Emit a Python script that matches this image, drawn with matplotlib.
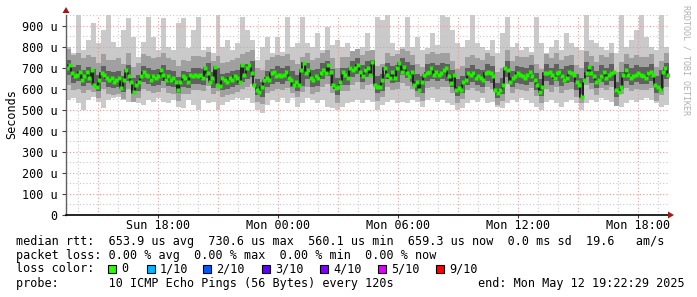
import numpy as np
import matplotlib
matplotlib.use("Agg")
import matplotlib.pyplot as plt
from matplotlib.patches import Rectangle, Polygon

# ---------------- data ----------------
# time axis in hours since Sunday 00:00
t_start_h = 13.4      # Sun 13:24
t_end_h = 43.55       # Mon 19:33

tick_hours = [18, 24, 30, 36, 42]
tick_labels = ["Sun 18:00", "Mon 00:00", "Mon 06:00", "Mon 12:00", "Mon 18:00"]

ytick_values = [0, 100, 200, 300, 400, 500, 600, 700, 800, 900]
ytick_labels = ["0", "100 u", "200 u", "300 u", "400 u", "500 u",
                "600 u", "700 u", "800 u", "900 u"]

# median RTT (microseconds)
median_rtt_us = [
    698, 714, 675, 660, 667, 683, 643, 660, 683, 651, 690, 619, 611, 643, 675, 667,
    651, 643, 651, 635, 643, 651, 603, 643, 690, 660, 635, 587, 619, 635, 660, 683,
    667, 660, 643, 660, 651, 660, 690, 667, 643, 660, 643, 651, 635, 595, 635, 660,
    651, 635, 667, 660, 667, 660, 667, 651, 698, 675, 635, 651, 706, 619, 614, 651,
    643, 635, 651, 643, 660, 651, 635, 714, 667, 698, 714, 675, 619, 595, 587, 611,
    643, 651, 643, 675, 683, 660, 667, 660, 667, 683, 651, 643, 619, 635, 619, 690, 722,
    675, 690, 651, 643, 660, 651, 675, 690, 675, 714, 683, 619, 603, 611, 635, 683,
    667, 651, 698, 690, 698, 714, 683, 660, 690, 698, 667, 730, 619, 611, 608, 643,
    698, 667, 651, 683, 651, 698, 722, 683, 706, 675, 660, 683, 619, 635, 595, 635, 667,
    675, 683, 698, 667, 683, 667, 675, 690, 698, 660, 627, 667, 595, 603, 595, 635,
    643, 675, 667, 675, 651, 660, 651, 643, 675, 683, 675, 660, 595, 579, 595, 619,
    698, 690, 635, 651, 660, 675, 667, 660, 651, 667, 683, 660, 643, 619, 587, 611, 675,
    675, 683, 667, 651, 675, 683, 660, 643, 651, 683, 675, 667, 635, 619, 563, 643,
    675, 706, 675, 660, 635, 643, 660, 683, 651, 667, 675, 683, 595, 587, 611, 667,
    690, 667, 651, 660, 667, 675, 667, 660, 651, 675, 683, 667, 619, 611, 595, 683, 698, 667,
]

# smoke envelopes (microseconds): outer (min..max), middle and inner bands
smoke_max = [
    801, 770, 952, 786, 833, 913, 817, 881, 952, 825, 801, 881, 936, 849, 754, 825, 944, 849, 786, 936, 801, 786, 913, 936,
    793, 881, 944, 786, 801, 770, 952, 801, 833, 786, 817, 944, 881, 833, 738, 801, 849, 770, 849, 778, 944, 801, 817, 944,
    817, 801, 865, 786, 897, 809, 833, 801, 817, 770, 786, 801, 865, 770, 944, 928, 952, 817, 786, 801, 944, 801, 849, 786,
    793, 865, 809, 952, 944, 881, 817, 801, 833, 952, 817, 801, 786, 833, 770, 865, 944, 801, 817, 786, 801, 778, 944, 817,
    770, 801, 833, 786, 865, 817, 801, 786, 952, 833, 817, 801, 786, 817, 770, 952, 801, 833, 881, 952, 849, 801, 786, 952, 801,
]
smoke_min = [
    548, 556, 532, 500, 548, 563, 540, 508, 548, 556, 563, 548, 540, 556, 532, 524, 548, 540, 556, 540, 532, 548, 516, 508,
    548, 524, 500, 548, 532, 540, 500, 524, 540, 548, 556, 548, 556, 532, 500, 484, 524, 548, 540, 556, 532, 556, 516, 532,
    556, 548, 532, 548, 516, 508, 500, 516, 532, 540, 548, 532, 548, 540, 500, 524, 540, 548, 532, 540, 532, 548, 540, 516,
    548, 556, 540, 548, 532, 524, 500, 508, 532, 548, 540, 556, 532, 540, 516, 508, 532, 548, 540, 556, 548, 532, 516, 500,
    540, 548, 532, 516, 540, 548, 532, 500, 532, 548, 540, 556, 548, 540, 524, 516, 532, 548, 540, 548, 556, 548, 532, 516, 524,
]
smoke_mid_hi = [
    790, 760, 770, 745, 760, 750, 725, 765, 740, 740, 745, 720, 770, 705, 725, 765, 755, 745, 750, 770, 745, 740, 710, 740,
    735, 755, 755, 750, 775, 735, 755, 725, 730, 740, 745, 765, 775, 785, 700, 690, 740, 750, 760, 755, 765, 740, 720, 750,
    770, 740, 745, 770, 785, 745, 700, 750, 750, 780, 790, 760, 780, 785, 710, 720, 770, 755, 765, 790, 780, 760, 720, 705,
    765, 775, 765, 770, 770, 735, 695, 710, 750, 760, 745, 740, 770, 755, 680, 700, 785, 735, 755, 750, 750, 760, 720, 695,
    765, 745, 770, 740, 755, 760, 715, 700, 780, 755, 730, 760, 750, 770, 680, 730, 765, 745, 760, 750, 750, 765, 705, 735, 770,
]
smoke_mid_lo = [
    620, 595, 600, 580, 595, 585, 555, 600, 575, 570, 575, 550, 600, 540, 555, 600, 590, 580, 585, 605, 580, 575, 545, 575,
    575, 595, 595, 590, 615, 575, 590, 560, 570, 575, 585, 600, 610, 625, 540, 530, 580, 590, 600, 595, 605, 580, 560, 585,
    610, 575, 585, 610, 625, 580, 535, 590, 590, 620, 635, 600, 620, 625, 545, 560, 610, 595, 600, 630, 615, 600, 560, 545,
    605, 610, 600, 610, 610, 580, 535, 550, 595, 605, 590, 580, 610, 600, 525, 545, 625, 580, 600, 595, 590, 605, 565, 535,
    600, 585, 610, 580, 595, 600, 560, 535, 620, 600, 570, 605, 595, 610, 520, 575, 605, 590, 600, 595, 595, 605, 545, 570, 610,
]
smoke_dark_hi = [
    740, 705, 715, 690, 705, 695, 665, 710, 685, 680, 685, 660, 715, 650, 665, 710, 700, 690, 695, 715, 690, 685, 655, 685,
    680, 700, 700, 695, 725, 680, 700, 670, 675, 685, 690, 715, 720, 735, 645, 635, 685, 695, 710, 700, 710, 685, 665, 695,
    725, 690, 695, 725, 735, 695, 650, 700, 700, 735, 745, 715, 735, 740, 660, 670, 725, 710, 715, 745, 730, 715, 670, 660,
    720, 725, 715, 725, 720, 690, 645, 660, 700, 715, 695, 690, 720, 710, 630, 650, 735, 685, 710, 705, 700, 715, 675, 645,
    720, 700, 720, 695, 710, 715, 670, 650, 730, 710, 685, 715, 700, 720, 635, 680, 720, 700, 715, 705, 705, 720, 660, 690, 725,
]
smoke_dark_lo = [
    665, 630, 640, 615, 630, 620, 590, 635, 610, 605, 610, 585, 640, 575, 590, 635, 625, 615, 620, 640, 615, 610, 580, 610,
    605, 625, 625, 620, 650, 605, 625, 595, 600, 610, 620, 635, 645, 655, 570, 560, 610, 625, 635, 625, 640, 610, 590, 615,
    645, 610, 615, 645, 660, 615, 570, 620, 620, 655, 670, 635, 655, 660, 580, 590, 645, 630, 635, 665, 650, 635, 590, 580,
    640, 645, 640, 645, 640, 610, 565, 580, 620, 635, 620, 610, 640, 630, 555, 575, 655, 610, 630, 625, 620, 635, 595, 565,
    640, 620, 640, 615, 630, 635, 595, 575, 655, 630, 605, 635, 620, 640, 560, 600, 640, 620, 635, 625, 625, 640, 580, 605, 645,
]

loss_labels = ["0", "1/10", "2/10", "3/10", "4/10", "5/10", "9/10"]
loss_colors = ["#26ff00", "#00b8ff", "#0059ff", "#5e00ff", "#7e00ff", "#dd00ff", "#ff0000"]

stats_line1 = "median rtt:  653.9 us avg  730.6 us max  560.1 us min  659.3 us now  0.0 ms sd  19.6   am/s"
stats_line2 = "packet loss: 0.00 % avg  0.00 % max  0.00 % min  0.00 % now"
probe_line = "probe:       10 ICMP Echo Pings (56 Bytes) every 120s"
end_line = "end: Mon May 12 19:22:29 2025"

# ---------------- figure ----------------
W, H = 697, 297
MONO = "DejaVu Sans Mono"
FS = 8.5
fig = plt.figure(figsize=(W / 100, H / 100), dpi=100)
fig.patch.set_facecolor("white")
ax = fig.add_axes([66 / W, (H - 215) / H, (669 - 66) / W, (215 - 15) / H])
ax.set_facecolor("white")

def fx(x):
    return x / W

def fy(y):
    return 1 - y / H

span = t_end_h - t_start_h
nm = len(median_rtt_us)
ns = len(smoke_max)
xm = t_start_h + (np.arange(nm) + 0.5) * span / nm
xs = t_start_h + (np.arange(ns) + 0.5) * span / ns
xs_edges = np.concatenate([[t_start_h], xs, [t_end_h]])

def ext(a):
    a = list(a)
    return np.array([a[0]] + a + [a[-1]])

ax.set_xlim(t_start_h, t_end_h)
ax.set_ylim(0, 952)

# grid
minor_c = "#c8c8c8"
major_c = "#e89a9a"
dots = (0, (1, 2))
for v in range(50, 951, 50):
    is_major = v % 100 == 0
    ax.axhline(v, color=major_c if is_major else minor_c, lw=0.8, ls=dots, zorder=3)
h = int(np.ceil(t_start_h))
while h < t_end_h:
    is_major = h % 3 == 0
    ax.axvline(h, color=major_c if is_major else minor_c, lw=0.8, ls=dots, zorder=3)
    h += 1

# smoke
ax.fill_between(xs_edges, ext(smoke_min), ext(smoke_max), step="mid", color="#cacaca", lw=0, zorder=2)
ax.fill_between(xs_edges, ext(smoke_mid_lo), ext(smoke_mid_hi), step="mid", color="#a0a0a0", lw=0, zorder=4)
ax.fill_between(xs_edges, ext(smoke_dark_lo), ext(smoke_dark_hi), step="mid", color="#606060", lw=0, zorder=4)

# median
ax.plot(xm, median_rtt_us, drawstyle="steps-mid", color="#1c1c1c", lw=1.3, zorder=5)
ax.plot(xm, median_rtt_us, "s", color="#22f000", ms=2.4, mec="none", zorder=6)

# axes styling
for s in ["top", "right"]:
    ax.spines[s].set_visible(False)
ax.spines["left"].set_color("#606060")
ax.spines["left"].set_linewidth(1.0)
ax.spines["bottom"].set_color("black")
ax.spines["bottom"].set_linewidth(1.2)
ax.spines["left"].set_zorder(7)
ax.spines["bottom"].set_zorder(7)

ax.set_yticks(ytick_values)
ax.set_yticklabels(ytick_labels, family=MONO, fontsize=FS)
ax.set_xticks(tick_hours)
ax.set_xticklabels(tick_labels, family=MONO, fontsize=FS)
ax.tick_params(axis="y", length=3, width=0.8, pad=3, color="#404040")
ax.tick_params(axis="x", length=2, width=0.8, pad=1, color="#404040")

# arrows
fig.add_artist(Polygon([[fx(62.5), fy(13)], [fx(69.5), fy(13)], [fx(66), fy(7)]],
                       closed=True, transform=fig.transFigure, color="#a01818", lw=0))
fig.add_artist(Polygon([[fx(668), fy(211.5)], [fx(668), fy(218.5)], [fx(674), fy(215)]],
                       closed=True, transform=fig.transFigure, color="#a01818", lw=0))

# labels
fig.text(fx(12), fy(114), "Seconds", rotation=90, family=MONO, fontsize=FS,
         ha="center", va="center")
fig.text(fx(686), fy(5), "RRDTOOL / TOBI OETIKER", rotation=270, family=MONO,
         fontsize=6.0, color="#b0b0b0", ha="center", va="top")

# legend / stats
fig.text(fx(16), fy(241), stats_line1, family=MONO, fontsize=FS, ha="left", va="center")
fig.text(fx(16), fy(255), stats_line2, family=MONO, fontsize=FS, ha="left", va="center")
fig.text(fx(16), fy(269), "loss color:", family=MONO, fontsize=FS, ha="left", va="center")
sq_x = [108, 147, 203, 262, 320, 378, 436]
for x0, lab, col in zip(sq_x, loss_labels, loss_colors):
    fig.add_artist(Rectangle((fx(x0), fy(273)), 8 / W, 8 / H, transform=fig.transFigure,
                             facecolor=col, edgecolor="black", lw=0.8))
    fig.text(fx(x0 + 13), fy(269), lab, family=MONO, fontsize=FS, ha="left", va="center")
fig.text(fx(16), fy(283), probe_line, family=MONO, fontsize=FS, ha="left", va="center")
fig.text(fx(478), fy(283), end_line, family=MONO, fontsize=FS, ha="left", va="center")

fig.savefig("out.png", dpi=100, facecolor="white")
